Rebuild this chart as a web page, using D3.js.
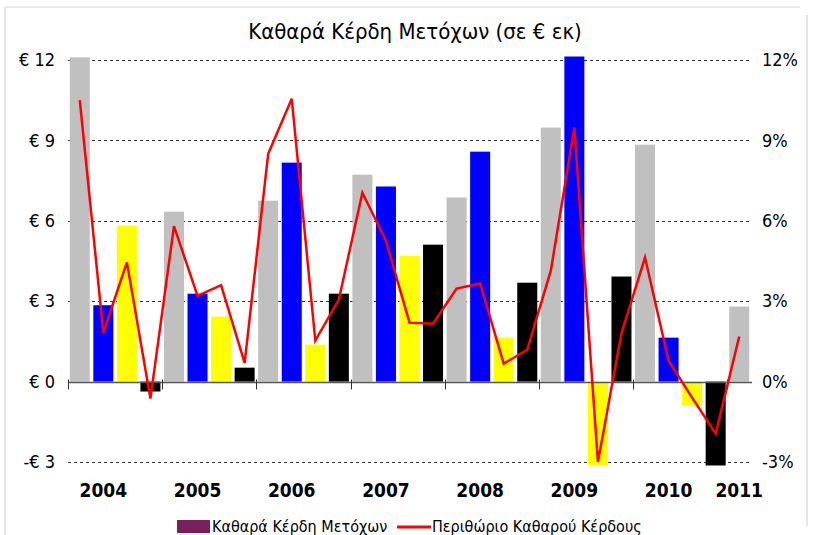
<!DOCTYPE html>
<html>
<head>
<meta charset="utf-8">
<script src="https://cdn.jsdelivr.net/npm/d3@7"></script>
<style>
  html, body { margin: 0; padding: 0; background: #fff; }
  svg { display: block; }
  text { font-family: "DejaVu Sans Condensed", "Liberation Sans Narrow", sans-serif; }
</style>
</head>
<body>
<svg id="chart" width="813" height="535"></svg>
<script>
// ---- data ----
const title = "Καθαρά Κέρδη Μετόχων (σε € εκ)";
const years = ["2004","2005","2006","2007","2008","2009","2010","2011"];
const quarters = ["Q1","Q2","Q3","Q4"];
const quarterColors = ["#C0C0C0", "#0000FF", "#FFFF00", "#000000"];
// net earnings per share (€), quarterly 2004Q1 .. 2011Q1
const earnings = [12.1, 2.85, 5.82, -0.37,
                  6.34, 3.28, 2.43, 0.52,
                  6.75, 8.17, 1.38, 3.28,
                  7.72, 7.28, 4.70, 5.11,
                  6.87, 8.58, 1.64, 3.69,
                  9.48, 12.13, -3.13, 3.92,
                  8.84, 1.64, -0.90, -3.13,
                  2.80];
// net profit margin (%)
const margin = [10.5, 1.83, 4.45, -0.63,
                5.8, 3.2, 3.6, 0.7,
                8.5, 10.55, 1.53, 3.06,
                7.05, 5.26, 2.2, 2.16,
                3.47, 3.66, 0.67, 1.19,
                4.14, 9.48, -3.0, 1.8,
                4.63, 0.78, -0.6, -1.94,
                1.68];
const leftTicks = [-3, 0, 3, 6, 9, 12];
const leftTickLabels = ["-€ 3", "€ 0", "€ 3", "€ 6", "€ 9", "€ 12"];
const rightTicks = [-3, 0, 3, 6, 9, 12];
const rightTickLabels = ["-3%", "0%", "3%", "6%", "9%", "12%"];
const legendLabels = ["Καθαρά Κέρδη Μετόχων", "Περιθώριο Καθαρού Κέρδους"];

// ---- build ----
(function () {
const svg = d3.select("#chart");
const pLeft = 68, pRight = 751, pTop = 60, pBottom = 462;

const cats = earnings.map((d, i) => years[Math.floor(i / 4)] + quarters[i % 4]);

const x = d3.scaleBand().domain(cats).range([pLeft, pRight]).paddingInner(0.15).paddingOuter(0.075);
const y = d3.scaleLinear().domain([-3, 12]).range([pBottom, pTop]);
const y2 = d3.scaleLinear().domain([-3, 12]).range([pBottom, pTop]);

// frame
const frame = svg.append("g").attr("stroke", "#d4d4d4").attr("stroke-width", 1.2).attr("fill", "none");
frame.append("line").attr("x1", 5).attr("y1", 7).attr("x2", 800).attr("y2", 7);
frame.append("line").attr("x1", 5).attr("y1", 7).attr("x2", 5).attr("y2", 535);
frame.append("line").attr("x1", 807).attr("y1", 15).attr("x2", 807).attr("y2", 526);

// title
svg.append("text")
  .attr("x", 415).attr("y", 39)
  .attr("text-anchor", "middle")
  .attr("font-size", 22)
  .attr("fill", "#000")
  .text(title);

// gridlines
svg.append("g").selectAll("line")
  .data(leftTicks.filter(t => t !== 0))
  .join("line")
  .attr("x1", pLeft).attr("x2", pRight + 1)
  .attr("y1", d => Math.round(y(d)) + 0.5).attr("y2", d => Math.round(y(d)) + 0.5)
  .attr("stroke", "#333").attr("stroke-width", 1)
  .attr("stroke-dasharray", "3,3");

// left axis labels
const leftAxis = d3.axisLeft(y).tickValues(leftTicks)
  .tickFormat((d, i) => leftTickLabels[i]).tickSize(0).tickPadding(13);
const ga = svg.append("g").attr("transform", `translate(${pLeft},0)`).call(leftAxis);
ga.select(".domain").remove();
ga.selectAll("text").attr("font-size", 18).attr("fill", "#000")
  .attr("font-family", "DejaVu Sans Condensed, sans-serif");

// right axis labels
const rightAxis = d3.axisRight(y2).tickValues(rightTicks)
  .tickFormat((d, i) => rightTickLabels[i]).tickSize(0).tickPadding(11);
const gr = svg.append("g").attr("transform", `translate(${pRight},0)`).call(rightAxis);
gr.select(".domain").remove();
gr.selectAll("text").attr("font-size", 18).attr("fill", "#000")
  .attr("font-family", "DejaVu Sans Condensed, sans-serif");

// bars
svg.append("g").selectAll("rect")
  .data(earnings)
  .join("rect")
  .attr("x", (d, i) => x(cats[i]))
  .attr("width", x.bandwidth())
  .attr("y", d => Math.min(y(d), y(0)))
  .attr("height", d => Math.abs(y(d) - y(0)))
  .attr("fill", (d, i) => quarterColors[i % 4]);

// zero axis line
const y0 = Math.round(y(0)) + 0.5;
svg.append("line")
  .attr("x1", pLeft).attr("x2", pRight + 1)
  .attr("y1", y0).attr("y2", y0)
  .attr("stroke", "#555").attr("stroke-width", 1.3);

// year boundary ticks
const step = x.step();
const tickIdx = years.map((yr, i) => i * 4);
svg.append("g").selectAll("line")
  .data(tickIdx)
  .join("line")
  .attr("x1", i => Math.round(x(cats[i]) - (step - x.bandwidth()) / 2) + 0.5)
  .attr("x2", i => Math.round(x(cats[i]) - (step - x.bandwidth()) / 2) + 0.5)
  .attr("y1", y0 - 3).attr("y2", y0 + 7)
  .attr("stroke", "#333").attr("stroke-width", 1);

// year labels
svg.append("g").selectAll("text")
  .data(years)
  .join("text")
  .attr("x", (yr, i) => {
    const idx = Math.min(i * 4 + 1, earnings.length - 1);
    return x(cats[idx]) + x.bandwidth() / 2;
  })
  .attr("y", 497)
  .attr("text-anchor", "middle")
  .attr("font-size", 19)
  .attr("font-weight", "bold")
  .attr("fill", "#000")
  .text(d => d);

// margin line
const line = d3.line()
  .x((d, i) => x(cats[i]) + x.bandwidth() / 2)
  .y(d => y2(d));
svg.append("path")
  .datum(margin)
  .attr("d", line)
  .attr("fill", "none")
  .attr("stroke", "#FF0000")
  .attr("stroke-width", 2.5)
  .attr("stroke-linejoin", "miter");

// legend
const lg = svg.append("g");
lg.append("rect").attr("x", 177).attr("y", 520).attr("width", 33).attr("height", 13).attr("fill", "#7B1F5C");
lg.append("text").attr("x", 212).attr("y", 532).attr("font-size", 16).attr("fill", "#000").text(legendLabels[0]);
lg.append("line").attr("x1", 397).attr("x2", 431).attr("y1", 527).attr("y2", 527)
  .attr("stroke", "#FF0000").attr("stroke-width", 3);
lg.append("text").attr("x", 432).attr("y", 532).attr("font-size", 16).attr("fill", "#000").text(legendLabels[1]);
})();
</script>
</body>
</html>
